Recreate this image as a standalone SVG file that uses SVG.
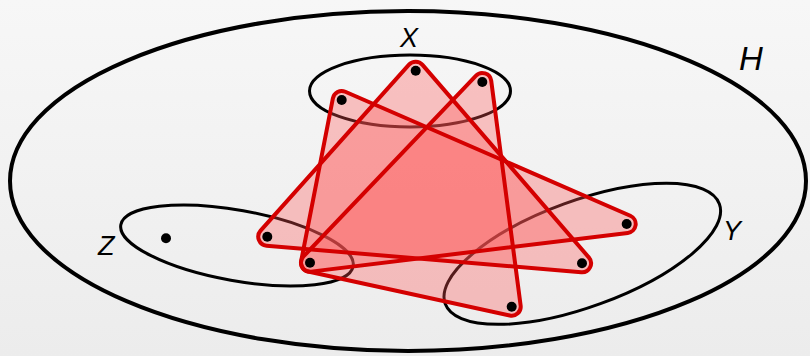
<svg xmlns="http://www.w3.org/2000/svg" width="810" height="356" viewBox="0 0 810 356">
<defs>
<linearGradient id="bg" x1="0" y1="0" x2="0" y2="1">
<stop offset="0" stop-color="#f7f7f7"/>
<stop offset="1" stop-color="#ececec"/>
</linearGradient>
</defs>
<style>
.set{fill:none;stroke:#000;stroke-width:3}
.outer{fill:none;stroke:#000;stroke-width:4}
.lbl{font-family:"Liberation Sans",Arial,sans-serif;font-style:italic;fill:#000}
.edgefill{fill:#ff5555;fill-opacity:0.33;stroke:none}
.edgeline{fill:none;stroke:#d40000;stroke-width:4;stroke-linejoin:round}
.v{fill:#000}
</style>
<rect width="810" height="356" fill="url(#bg)"/>
<g id="H">
<ellipse class="outer" cx="408" cy="181" rx="398" ry="170"/>
<text class="lbl" x="739" y="70" font-size="33">H</text>
</g>
<g id="X">
<ellipse class="set" cx="410" cy="91" rx="100.5" ry="36"/>
<text class="lbl" x="400" y="46.5" font-size="27">X</text>
</g>
<g id="Z">
<ellipse class="set" cx="0" cy="0" rx="118" ry="35.3" transform="translate(237 245.5) rotate(10.1)"/>
<text class="lbl" x="98" y="255" font-size="27">Z</text>
</g>
<g id="Y">
<ellipse class="set" cx="0" cy="0" rx="145.9" ry="53.1" transform="translate(582.3 253.8) rotate(-20)"/>
<text class="lbl" x="723" y="239.5" font-size="27">Y</text>
</g>
<g id="connectors">
<path id="eA-fill" class="edgefill" d="M345.29,91.75 L630.29,215.75 A9 9 0 0 1 627.79,232.93 L311.09,271.63 A9 9 0 0 1 301.17,260.98 L332.87,98.28 A9 9 0 0 1 345.29,91.75 Z"/>
<path id="eB-fill" class="edgefill" d="M422.51,64.82 L588.81,257.42 A9 9 0 0 1 581.24,272.27 L266.54,245.67 A9 9 0 0 1 260.59,230.7 L408.99,64.7 A9 9 0 0 1 422.51,64.82 Z"/>
<path id="eC-fill" class="edgefill" d="M491.22,80.83 L520.62,305.53 A9 9 0 0 1 509.78,315.49 L308.08,271.49 A9 9 0 0 1 303.49,256.49 L475.79,75.79 A9 9 0 0 1 491.22,80.83 Z"/>
<path id="eA" class="edgeline" d="M345.29,91.75 L630.29,215.75 A9 9 0 0 1 627.79,232.93 L311.09,271.63 A9 9 0 0 1 301.17,260.98 L332.87,98.28 A9 9 0 0 1 345.29,91.75 Z"/>
<path id="eB" class="edgeline" d="M422.51,64.82 L588.81,257.42 A9 9 0 0 1 581.24,272.27 L266.54,245.67 A9 9 0 0 1 260.59,230.7 L408.99,64.7 A9 9 0 0 1 422.51,64.82 Z"/>
<path id="eC" class="edgeline" d="M491.22,80.83 L520.62,305.53 A9 9 0 0 1 509.78,315.49 L308.08,271.49 A9 9 0 0 1 303.49,256.49 L475.79,75.79 A9 9 0 0 1 491.22,80.83 Z"/>
</g>
<g id="vertices">
<circle id="x1" class="v" cx="415.7" cy="70.7" r="5"/>
<circle id="x2" class="v" cx="482.3" cy="82" r="5"/>
<circle id="x3" class="v" cx="341.7" cy="100" r="5"/>
<circle id="z0" class="v" cx="166" cy="238.3" r="5"/>
<circle id="z1" class="v" cx="267.3" cy="236.7" r="5"/>
<circle id="z2" class="v" cx="310" cy="262.7" r="5"/>
<circle id="y1" class="v" cx="626.7" cy="224" r="5"/>
<circle id="y2" class="v" cx="582" cy="263.3" r="5"/>
<circle id="y3" class="v" cx="511.7" cy="306.7" r="5"/>
</g>
</svg>
